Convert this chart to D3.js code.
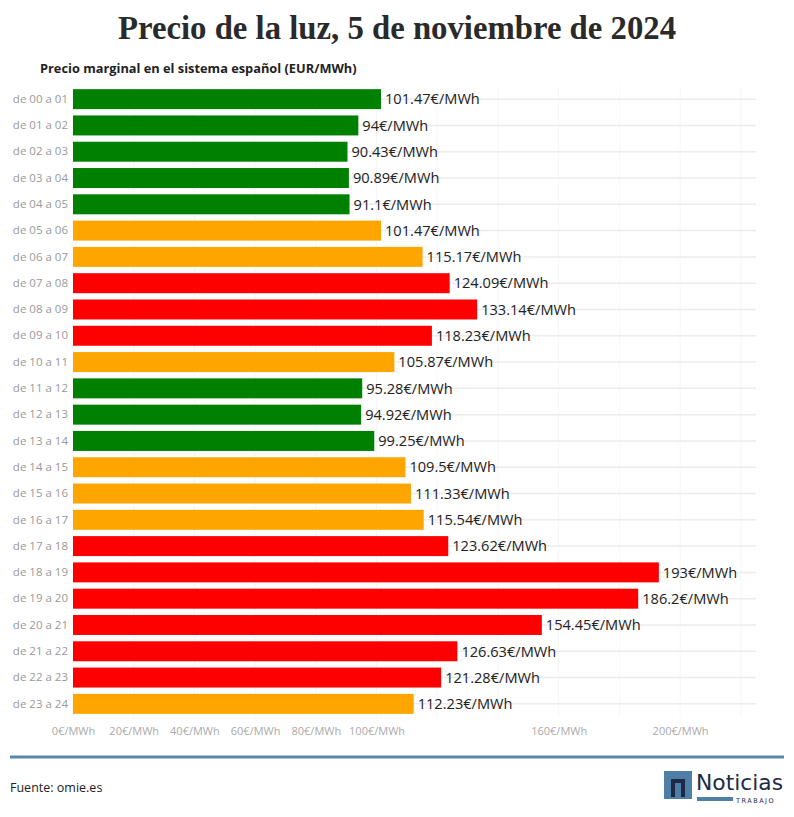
<!DOCTYPE html>
<html><head><meta charset="utf-8">
<script src="https://cdn.jsdelivr.net/npm/d3@7"></script>
<style>
html,body{margin:0;padding:0;background:#fff;}
svg{display:block;}
</style></head>
<body>
<svg id="chart" width="794" height="817"></svg>
<script>
const categories = ["de 00 a 01","de 01 a 02","de 02 a 03","de 03 a 04","de 04 a 05","de 05 a 06","de 06 a 07","de 07 a 08","de 08 a 09","de 09 a 10","de 10 a 11","de 11 a 12","de 12 a 13","de 13 a 14","de 14 a 15","de 15 a 16","de 16 a 17","de 17 a 18","de 18 a 19","de 19 a 20","de 20 a 21","de 21 a 22","de 22 a 23","de 23 a 24"];
const prices = [101.47,94,90.43,90.89,91.1,101.47,115.17,124.09,133.14,118.23,105.87,95.28,94.92,99.25,109.5,111.33,115.54,123.62,193,186.2,154.45,126.63,121.28,112.23];
const levels = ["low","low","low","low","low","mid","mid","high","high","high","mid","low","low","low","mid","mid","mid","high","high","high","high","high","high","mid"];
const levelColors = {low:"#008000", mid:"#FFA500", high:"#FF0000"};
const tickValues = [0,20,40,60,80,100,120,140,160,180,200,220];
const labeledTicks = [0,20,40,60,80,100,160,200];

const svg = d3.select("#chart");
const x = d3.scaleLinear().domain([0,225]).range([73,756]);
const y = d3.scaleBand().domain(categories).range([86,717]).paddingInner(0.24).paddingOuter(0.12);

// title
svg.append("text").attr("x",397).attr("y",39).attr("text-anchor","middle")
  .style("font-family","'Liberation Serif', serif").style("font-weight","bold").style("font-size","33px")
  .attr("textLength",558).attr("lengthAdjust","spacingAndGlyphs")
  .attr("fill","#2a2a2a").text("Precio de la luz, 5 de noviembre de 2024");
svg.append("text").attr("x",40).attr("y",73)
  .style("font-family","'Open Sans', sans-serif").style("font-weight","bold").style("font-size","12.8px")
  .attr("fill","#222").text("Precio marginal en el sistema español (EUR/MWh)");

// vertical grid
svg.append("g").selectAll("line").data(tickValues).join("line")
  .attr("x1",d=>x(d)).attr("x2",d=>x(d)).attr("y1",86).attr("y2",717)
  .attr("stroke","#f6f6f6").attr("stroke-width",1);
// horizontal grid
svg.append("g").selectAll("line").data(categories).join("line")
  .attr("x1",73).attr("x2",756)
  .attr("y1",d=>y(d)+y.bandwidth()/2).attr("y2",d=>y(d)+y.bandwidth()/2)
  .attr("stroke","#ececec").attr("stroke-width",1.5);

// bars
svg.append("g").selectAll("rect").data(prices).join("rect")
  .attr("x",x(0)).attr("y",(d,i)=>y(categories[i]))
  .attr("width",d=>x(d)-x(0)).attr("height",y.bandwidth())
  .attr("fill",(d,i)=>levelColors[levels[i]]);

// value labels
svg.append("g").selectAll("text").data(prices).join("text")
  .attr("x",d=>x(d)+4).attr("y",(d,i)=>y(categories[i])+y.bandwidth()/2)
  .attr("dy","0.36em")
  .style("font-family","'Open Sans', sans-serif").style("font-size","14.6px")
  .attr("fill","#222").text(d=>d+"€/MWh");

// y axis labels
const yAxis = d3.axisLeft(y).tickSize(0).tickPadding(5);
const gy = svg.append("g").attr("transform","translate(73,0)").call(yAxis);
gy.select(".domain").remove();
gy.selectAll("text").style("font-family","'Open Sans', sans-serif").style("font-size","11.5px").attr("fill","#999");

// x axis
const xAxis = d3.axisBottom(x).tickValues(labeledTicks).tickSize(0).tickPadding(0).tickFormat(d=>d+"€/MWh");
const gx = svg.append("g").attr("transform","translate(0,727)").call(xAxis);
gx.select(".domain").remove();
gx.selectAll("text").style("font-family","'Open Sans', sans-serif").style("font-size","11px").attr("fill","#aaa");

// footer
svg.append("line").attr("x1",10).attr("x2",784).attr("y1",757).attr("y2",757).attr("stroke","#5b87a6").attr("stroke-width",3);
svg.append("text").attr("x",10).attr("y",792)
  .style("font-family","'Open Sans', sans-serif").style("font-size","12.5px").attr("fill","#222").text("Fuente: omie.es");

// logo
const logo = svg.append("g").attr("transform","translate(664,771)");
logo.append("rect").attr("x",0).attr("y",0).attr("width",28).attr("height",28).attr("fill","#4f7fa6");
logo.append("path").attr("d","M7,26 V8 H21 V26 H17 V12 H11 V26 Z").attr("fill","#1c2b45");
logo.append("text").attr("x",32).attr("y",19).style("font-family","'DejaVu Sans Condensed','DejaVu Sans', sans-serif")
  .style("font-size","22px").attr("fill","#1c2b45").attr("textLength",87).attr("lengthAdjust","spacingAndGlyphs").text("Noticias");
logo.append("rect").attr("x",33).attr("y",26).attr("width",36).attr("height",4).attr("fill","#4f7fa6");
logo.append("text").attr("x",72).attr("y",32).style("font-family","'DejaVu Sans', sans-serif")
  .style("font-size","6.5px").attr("fill","#1c2b45").attr("letter-spacing","1.5").text("TRABAJO");
</script>
</body></html>
